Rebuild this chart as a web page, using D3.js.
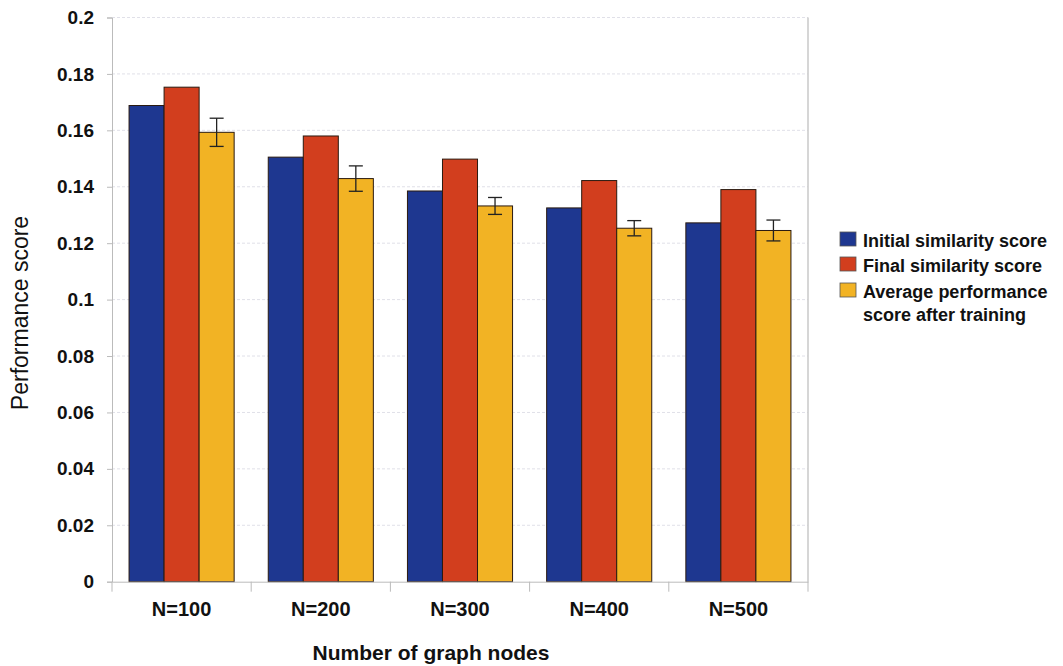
<!DOCTYPE html>
<html><head><meta charset="utf-8">
<script src="https://cdn.jsdelivr.net/npm/d3@7"></script>
<style>body{margin:0;background:#fff}svg{display:block}</style>
</head><body>
<script>
const categories = ["N=100","N=200","N=300","N=400","N=500"];
const seriesNames = ["Initial similarity score","Final similarity score","Average performance score after training"];
const initialScore = [0.1688,0.1505,0.1385,0.1325,0.1272];
const finalScore = [0.1753,0.158,0.1498,0.1422,0.139];
const avgScore = [0.1593,0.1429,0.1332,0.1253,0.1245];
const avgError = [0.005,0.0045,0.003,0.0027,0.0037];
const yTicks = [0,0.02,0.04,0.06,0.08,0.1,0.12,0.14,0.16,0.18,0.2];
const colors = ["#1e3790","#d23e1e","#f2b324"];

const W=1063,H=666;
const m={left:112,right:808,top:17.5,bottom:581.7};
const svg=d3.select("body").append("svg").attr("width",W).attr("height",H);
const font="Liberation Sans, Arial, sans-serif";

const x=d3.scaleBand().domain(categories).range([m.left,m.right]).paddingInner(0.245).paddingOuter(0.1225);
const xs=d3.scaleBand().domain([0,1,2]).range([0,x.bandwidth()]);
const y=d3.scaleLinear().domain([0,0.2]).range([m.bottom,m.top]);

// gridlines
svg.append("g").selectAll("line").data(yTicks.slice(1)).join("line")
  .attr("x1",m.left).attr("x2",m.right).attr("y1",d=>y(d)).attr("y2",d=>y(d))
  .attr("stroke","#e0e0e8").attr("stroke-width",1).attr("stroke-dasharray","3,2");
// right border
svg.append("line").attr("x1",m.right).attr("x2",m.right).attr("y1",m.top).attr("y2",m.bottom).attr("stroke","#c8c8c8").attr("stroke-width",1.5);

const data=categories.map((c,i)=>({c,vals:[initialScore[i],finalScore[i],avgScore[i]],err:avgError[i]}));
const g=svg.append("g").selectAll("g").data(data).join("g").attr("transform",d=>`translate(${x(d.c)},0)`);
g.selectAll("rect").data(d=>d.vals.map((v,k)=>({v,k}))).join("rect")
  .attr("x",d=>xs(d.k)).attr("width",xs.bandwidth()).attr("y",d=>y(d.v)).attr("height",d=>y(0)-y(d.v))
  .attr("fill",d=>colors[d.k]).attr("stroke","#2a1a10").attr("stroke-width",1);
// error bars
const eb=g.append("g").attr("stroke","#222").attr("stroke-width",1.3);
const cx=xs(2)+xs.bandwidth()/2;
eb.append("line").attr("x1",cx).attr("x2",cx).attr("y1",d=>y(d.vals[2]+d.err)).attr("y2",d=>y(d.vals[2]-d.err));
eb.append("line").attr("x1",cx-7).attr("x2",cx+7).attr("y1",d=>y(d.vals[2]+d.err)).attr("y2",d=>y(d.vals[2]+d.err));
eb.append("line").attr("x1",cx-7).attr("x2",cx+7).attr("y1",d=>y(d.vals[2]-d.err)).attr("y2",d=>y(d.vals[2]-d.err));

// y axis
const ya=svg.append("g").attr("transform",`translate(${m.left},0)`)
  .call(d3.axisLeft(y).tickValues(yTicks).tickFormat(d=>d3.format("")(+d.toFixed(2))).tickSize(5).tickPadding(13));
ya.select(".domain").attr("stroke","#bbb");
ya.selectAll(".tick line").attr("stroke","#bbb");
ya.selectAll("text").attr("font-family",font).attr("font-size",19).attr("font-weight","bold").attr("fill","#111");
// x axis
const xa=svg.append("g").attr("transform",`translate(0,${m.bottom})`)
  .call(d3.axisBottom(x).tickSize(0).tickPadding(20));
xa.select(".domain").attr("stroke","#bbb");
xa.selectAll("text").attr("font-family",font).attr("font-size",20).attr("font-weight","bold").attr("fill","#111");
// category separators ticks
svg.append("g").selectAll("line").data(d3.range(categories.length+1)).join("line")
  .attr("x1",i=>m.left+i*x.step()).attr("x2",i=>m.left+i*x.step())
  .attr("y1",m.bottom).attr("y2",m.bottom+10).attr("stroke","#bbb");

svg.append("text").attr("x",431).attr("y",660).attr("text-anchor","middle")
  .attr("font-family",font).attr("font-size",21).attr("font-weight","bold").attr("fill","#111").text("Number of graph nodes");
svg.append("text").attr("transform","translate(28,313) rotate(-90)").attr("text-anchor","middle")
  .attr("font-family",font).attr("font-size",23).attr("fill","#111").text("Performance score");

// legend
const lg=svg.append("g").attr("font-family",font).attr("font-size",18).attr("font-weight","bold").attr("fill","#111");
const ly=[247,272,298];
seriesNames.forEach((s,i)=>{
  lg.append("rect").attr("x",840).attr("y",ly[i]-15).attr("width",16).attr("height",14).attr("fill",colors[i]).attr("stroke","#555").attr("stroke-width",0.8);
  const t=lg.append("text").attr("x",863).attr("y",ly[i]);
  if(i===2){
    t.append("tspan").attr("x",863).text("Average performance");
    t.append("tspan").attr("x",863).attr("dy",23).text("score after training");
  } else t.text(s);
});
</script>
</body></html>
